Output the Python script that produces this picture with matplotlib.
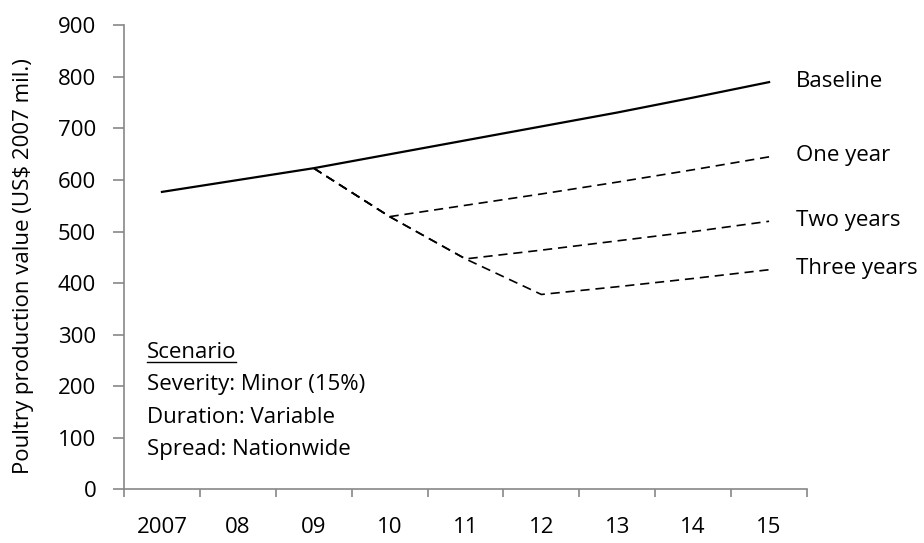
import matplotlib.pyplot as plt

plt.rcParams['font.family'] = ['Open Sans', 'DejaVu Sans']

years = ['2007', '08', '09', '10', '11', '12', '13', '14', '15']
baseline = [577, 600, 623, 650, 677, 704, 731, 760, 790]
one_year = [None, None, 623, 529, 551, 573, 596, 620, 645]
two_years = [None, None, 623, 529, 447, 464, 482, 500, 520]
three_years = [None, None, 623, 529, 447, 378, 393, 409, 426]

series_names = ['Baseline', 'One year', 'Two years', 'Three years']
scenario_lines = ['Severity: Minor (15%)', 'Duration: Variable', 'Spread: Nationwide']

FS = 16

fig = plt.figure(figsize=(9.24, 5.43), dpi=100)
ax = fig.add_axes([0.1342, 0.0989, 0.7392, 0.8543])

x = list(range(len(years)))


def pts(vals):
    xs = [i for i, v in zip(x, vals) if v is not None]
    ys = [v for v in vals if v is not None]
    return xs, ys


ax.plot(*pts(baseline), color='black', lw=1.6)
for s in [one_year, two_years, three_years]:
    ax.plot(*pts(s), color='black', lw=1.2, linestyle=(0, (5.5, 3.5)))

ax.set_xlim(-0.5, len(years) - 0.5)
ax.set_ylim(0, 900)
ax.set_yticks(range(0, 901, 100))
ax.set_xticks(x)
ax.set_xticklabels(years)
ax.set_xticks([i - 0.5 for i in range(len(years) + 1)], minor=True)
ax.tick_params(axis='x', which='major', length=0, pad=20, labelsize=FS)
ax.tick_params(axis='x', which='minor', length=6, color='#878787', width=1.2)
ax.tick_params(axis='y', length=8, color='#878787', width=1.2, pad=12, labelsize=FS)

for side in ['top', 'right']:
    ax.spines[side].set_visible(False)
for side in ['left', 'bottom']:
    ax.spines[side].set_color('#878787')
    ax.spines[side].set_linewidth(1.2)

ax.set_ylabel('Poultry production value (US$ 2007 mil.)', fontsize=FS)
ax.yaxis.set_label_coords(-0.132, 0.481)

ends = [baseline[-1], one_year[-1], two_years[-1], three_years[-1]]
for name, v in zip(series_names, ends):
    ax.text(x[-1] + 0.355, v + 2, name, fontsize=FS, va='center', ha='left')

t = ax.text(-0.2, 255, 'Scenario', fontsize=FS, ha='left', va='baseline')
for k, line in enumerate(scenario_lines):
    ax.text(-0.2, 192 - k * 63, line, fontsize=FS, ha='left', va='baseline')

# underline the "Scenario" heading
fig.canvas.draw()
bb = t.get_window_extent().transformed(ax.transData.inverted())
ax.plot([bb.x0, bb.x1], [247, 247], color='black', lw=1.0)

fig.savefig('out.png', dpi=100)
